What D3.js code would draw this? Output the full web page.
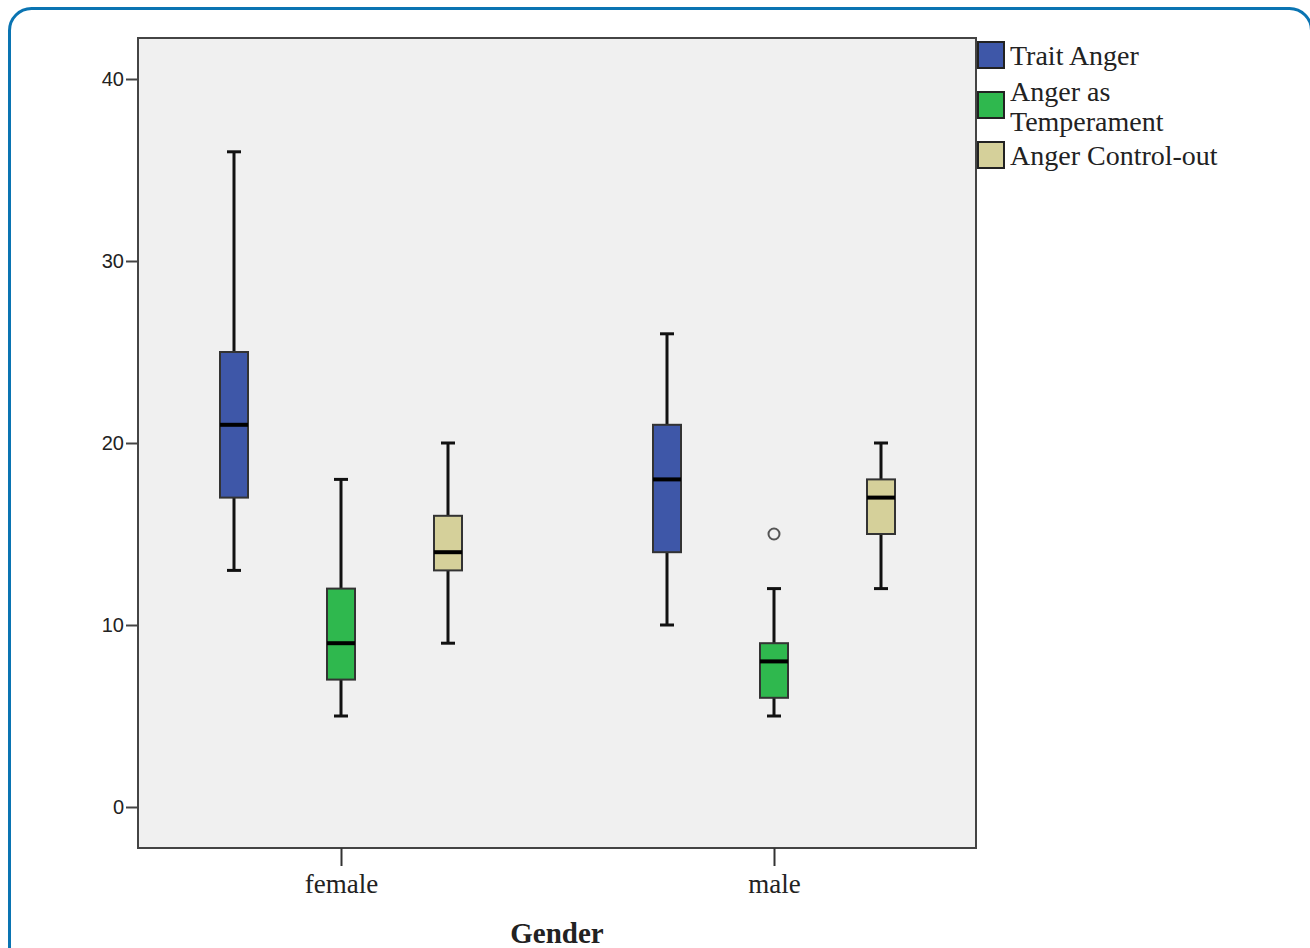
<!DOCTYPE html>
<html>
<head>
<meta charset="utf-8">
<script src="https://cdn.jsdelivr.net/npm/d3@7"></script>
<style>
  body { margin: 0; background: white; }
</style>
</head>
<body>
<svg id="fig" width="1310" height="948"></svg>
<script>
// groups on the x axis and the three measures
var genders = ["female", "male"];
var measures = ["Trait Anger", "Anger as Temperament", "Anger Control-out"];
var colors = ["#3e57a8", "#2fb84e", "#d5d09a"];
var yTicks = [0, 10, 20, 30, 40];

// five-number summaries [min, q1, median, q3, max], one per measure, per gender
var femaleStats = [[13, 17, 21, 25, 36], [5, 7, 9, 12, 18], [9, 13, 14, 16, 20]];
var maleStats = [[10, 14, 18, 21, 26], [5, 6, 8, 9, 12], [12, 15, 17, 18, 20]];
// outliers: [gender, measure index, value]
var outliers = [["male", 1, 15]];

var svg = d3.select("#fig");

// rounded blue frame
svg.append("rect")
   .attr("x", 9.5).attr("y", 8.5)
   .attr("width", 1302).attr("height", 1000)
   .attr("rx", 22)
   .attr("fill", "white")
   .attr("stroke", "#0a74b2")
   .attr("stroke-width", 3);

var pLeft = 138, pRight = 976, pTop = 38, pBottom = 848;

var y = d3.scaleLinear().domain([0, 40]).range([807, 79]);
var x = d3.scalePoint().domain(genders).range([341, 774]);
var off = d3.scalePoint().domain(d3.range(3)).range([-107, 107]);

svg.append("rect")
   .attr("x", pLeft).attr("y", pTop)
   .attr("width", pRight - pLeft).attr("height", pBottom - pTop)
   .attr("fill", "#f0f0f0")
   .attr("stroke", "#444").attr("stroke-width", 2);

// y axis
var ya = svg.append("g")
   .attr("transform", "translate(" + pLeft + ",0)")
   .call(d3.axisLeft(y).tickValues(yTicks).tickSize(12).tickPadding(2));
ya.select(".domain").remove();
ya.selectAll("line").attr("stroke", "#444").attr("stroke-width", 2);
ya.selectAll("text")
  .attr("font-family", "Liberation Sans, Arial, sans-serif")
  .attr("font-size", "20px").attr("fill", "#222");

// x axis
var xa = svg.append("g")
   .attr("transform", "translate(0," + pBottom + ")")
   .call(d3.axisBottom(x).tickSize(18).tickPadding(8));
xa.select(".domain").remove();
xa.selectAll("line").attr("stroke", "#333").attr("stroke-width", 2);
xa.selectAll("text")
  .attr("font-family", "Liberation Serif, Times New Roman, serif")
  .attr("font-size", "27px").attr("fill", "#222");

svg.append("text")
   .attr("x", 557).attr("y", 943)
   .attr("text-anchor", "middle")
   .attr("font-family", "Liberation Serif, Times New Roman, serif")
   .attr("font-weight", "bold")
   .attr("font-size", "29px").attr("fill", "#222")
   .text("Gender");

// boxes
var rows = [];
genders.forEach(function(g, gi) {
  var st = gi == 0 ? femaleStats : maleStats;
  st.forEach(function(s, mi) { rows.push({g: g, m: mi, s: s}); });
});

var bw = 28, cap = 14;
var boxes = svg.append("g").selectAll("g").data(rows).enter().append("g")
   .attr("transform", d => "translate(" + (x(d.g) + off(d.m)) + ",0)");

boxes.append("line")
   .attr("x1", 0).attr("x2", 0)
   .attr("y1", d => y(d.s[0])).attr("y2", d => y(d.s[4]))
   .attr("stroke", "#111").attr("stroke-width", 3);
boxes.append("line")
   .attr("x1", -cap / 2).attr("x2", cap / 2)
   .attr("y1", d => y(d.s[0])).attr("y2", d => y(d.s[0]))
   .attr("stroke", "#111").attr("stroke-width", 3);
boxes.append("line")
   .attr("x1", -cap / 2).attr("x2", cap / 2)
   .attr("y1", d => y(d.s[4])).attr("y2", d => y(d.s[4]))
   .attr("stroke", "#111").attr("stroke-width", 3);
boxes.append("rect")
   .attr("x", -bw / 2).attr("width", bw)
   .attr("y", d => y(d.s[3]))
   .attr("height", d => y(d.s[1]) - y(d.s[3]))
   .attr("fill", d => colors[d.m])
   .attr("stroke", "#333").attr("stroke-width", 2);
boxes.append("line")
   .attr("x1", -bw / 2).attr("x2", bw / 2)
   .attr("y1", d => y(d.s[2])).attr("y2", d => y(d.s[2]))
   .attr("stroke", "#000").attr("stroke-width", 4);

svg.append("g").selectAll("circle").data(outliers).enter().append("circle")
   .attr("cx", d => x(d[0]) + off(d[1]))
   .attr("cy", d => y(d[2]))
   .attr("r", 5.5)
   .attr("fill", "none")
   .attr("stroke", "#555").attr("stroke-width", 2);

// legend
var legend = [
  {lines: ["Trait Anger"], y: 42},
  {lines: ["Anger as", "Temperament"], y: 92},
  {lines: ["Anger Control-out"], y: 142}
];
var lg = svg.append("g").selectAll("g").data(legend).enter().append("g");
lg.append("rect")
  .attr("x", 978).attr("y", d => d.y)
  .attr("width", 26).attr("height", 26)
  .attr("fill", (d, i) => colors[i])
  .attr("stroke", "#222").attr("stroke-width", 2);
lg.each(function(d) {
  var t = d3.select(this).append("text")
    .attr("font-family", "Liberation Serif, Times New Roman, serif")
    .attr("font-size", "28px").attr("fill", "#222");
  var y0 = d.lines.length == 1 ? d.y + 23 : d.y + 9;
  d.lines.forEach(function(s, k) {
    t.append("tspan").attr("x", 1010).attr("y", y0 + k * 30).text(s);
  });
});
</script>
</body>
</html>
